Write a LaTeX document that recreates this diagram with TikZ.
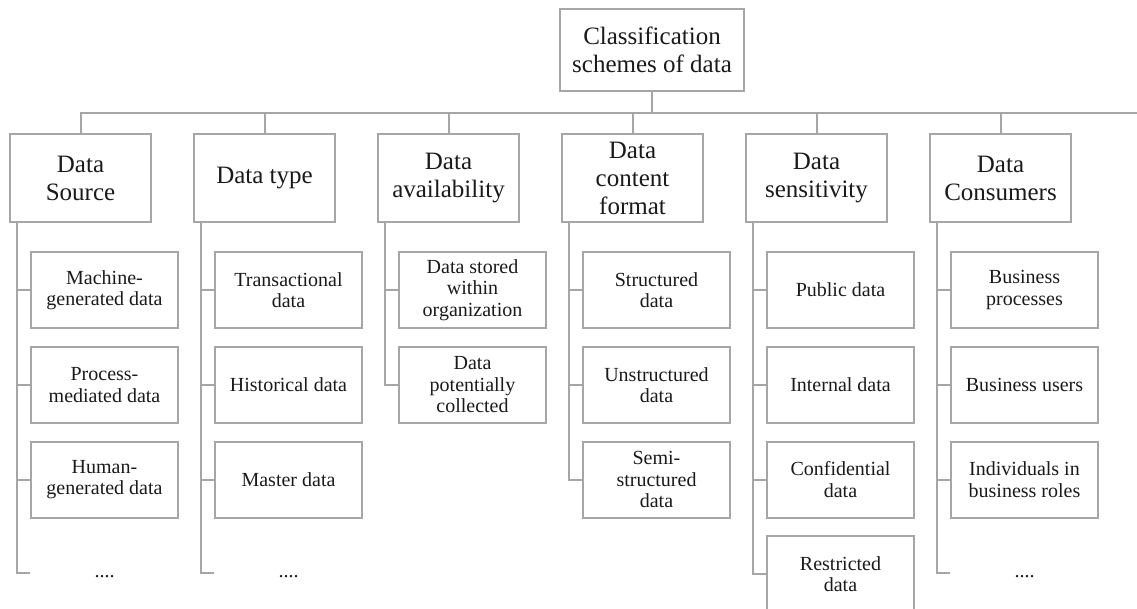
\documentclass[tikz,border=0pt]{standalone}
\usepackage{fontspec}
\setmainfont{Liberation Serif}
\usetikzlibrary{calc}
\definecolor{lg}{RGB}{166,166,166}
\definecolor{tx}{RGB}{26,26,26}
\tikzset{
 line/.style={draw=lg, line width=2pt},
 hdr/.style={line, text=tx, minimum width=141pt, minimum height=88pt, inner sep=0pt, align=center, font=\fontsize{25}{28}\selectfont},
 leaf/.style={line, text=tx, minimum width=147pt, minimum height=76pt, inner sep=0pt, align=center, font=\fontsize{20}{21.5}\selectfont},
 dots/.style={text=tx, inner sep=0pt, font=\fontsize{20}{21.5}\selectfont},
}
\begin{document}
\begin{tikzpicture}[x=1pt,y=-1pt]
\useasboundingbox (0,0) rectangle (1137,608);
\clip (0,0) rectangle (1137,608);
% top
\node[hdr, minimum width=184pt, minimum height=82pt] (top) at (652,50) {Classification\\schemes of data};
% headers
\node[hdr] (h1) at (80.5,178) {Data\\Source};
\node[hdr] (h2) at (264.5,178) {Data type};
\node[hdr] (h3) at (448.5,178) {Data\\availability};
\node[hdr] (h4) at (632.5,178) {Data\\content\\format};
\node[hdr] (h5) at (816.5,178) {Data\\sensitivity};
\node[hdr] (h6) at (1000.5,178) {Data\\Consumers};
% bus
\coordinate (busR) at (1137,113);
\draw[line] (h1.north) |- (busR);
\draw[line] (top.south) -- (top.south |- busR);
\foreach \i in {2,...,6} \draw[line] (h\i.north) -- (h\i.north |- busR);
% column 1
\node[leaf] (c11) at (104.5,290) {Machine-\\generated data};
\node[leaf] (c12) at (104.5,385) {Process-\\mediated data};
\node[leaf] (c13) at (104.5,479.5) {Human-\\generated data};
\node[dots] (d1) at (104.5,577) {....};
% column 2
\node[leaf] (c21) at (288.5,290) {Transactional\\data};
\node[leaf] (c22) at (288.5,385) {Historical data};
\node[leaf] (c23) at (288.5,479.5) {Master data};
\node[dots] (d2) at (288.5,577) {....};
% column 3
\node[leaf] (c31) at (472.5,290) {Data stored\\within\\organization};
\node[leaf] (c32) at (472.5,385) {Data\\potentially\\collected};
% column 4
\node[leaf] (c41) at (656.5,290) {Structured\\data};
\node[leaf] (c42) at (656.5,385) {Unstructured\\data};
\node[leaf] (c43) at (656.5,479.5) {Semi-\\structured\\data};
% column 5
\node[leaf] (c51) at (840.5,290) {Public data};
\node[leaf] (c52) at (840.5,385) {Internal data};
\node[leaf] (c53) at (840.5,479.5) {Confidential\\data};
\node[leaf] (c54) at (840.5,574) {Restricted\\data};
% column 6
\node[leaf] (c61) at (1024.5,290) {Business\\processes};
\node[leaf] (c62) at (1024.5,385) {Business users};
\node[leaf] (c63) at (1024.5,479.5) {Individuals in\\business roles};
\node[dots] (d6) at (1024.5,577) {....};
% spines
\foreach \i in {1,...,6} \coordinate (s\i) at ($(h\i.south west)+(8,0)$);
\coordinate (t1) at (104.5,573);
\coordinate (e1) at (t1 -| c11.west);
\coordinate (e2) at (t1 -| c21.west);
\coordinate (e6) at (t1 -| c61.west);
\draw[line] (s1) |- (e1);
\draw[line] (s2) |- (e2);
\draw[line] (s3) |- (c32.west);
\draw[line] (s4) |- (c43.west);
\draw[line] (s5) |- (c54.west);
\draw[line] (s6) |- (e6);
\foreach \c/\s in {c11/s1,c12/s1,c13/s1,c21/s2,c22/s2,c23/s2,c31/s3,c41/s4,c42/s4,c51/s5,c52/s5,c53/s5,c61/s6,c62/s6,c63/s6}
  \draw[line] (\s |- \c.west) -- (\c.west);
\end{tikzpicture}
\end{document}
